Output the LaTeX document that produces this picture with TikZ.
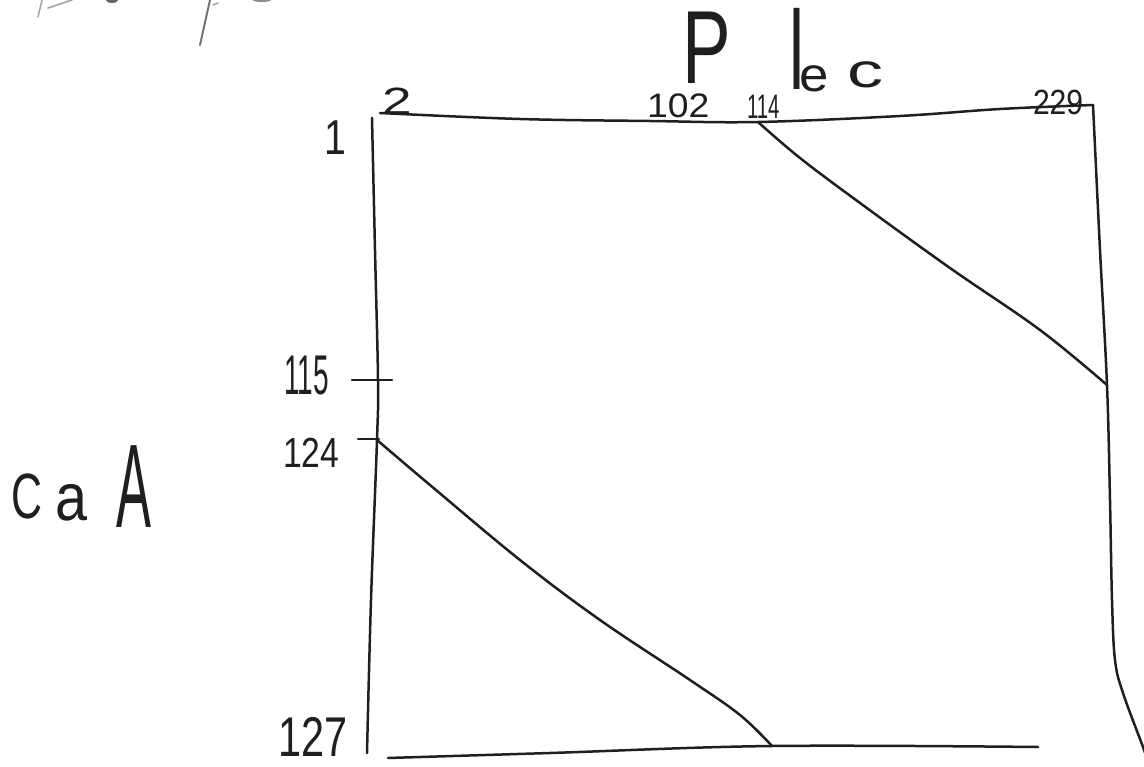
\documentclass[tikz,border=0pt]{standalone}
\usepackage{fontspec}
\setmainfont{Liberation Sans}
\newcommand{\fsz}[1]{\fontsize{#1}{#1}\selectfont}
\begin{document}
\begin{tikzpicture}[x=1pt,y=-1pt,
  ink/.style={line width=2.5pt,draw=black!88,line cap=round,line join=round},
  faint/.style={line width=1.6pt,draw=black!35,line cap=round},
  hand/.style={inner sep=0pt,outer sep=0pt,anchor=base west,text=black!88}]
\useasboundingbox (0,0) rectangle (1144,767);
\clip (0,0) rectangle (1144,767);
% faint cut-off strokes at the top left
\draw[faint] (38,17) -- (42,0);
\draw[faint] (48,8) -- (72,0);
\fill[black!60] (112,0) ellipse (6 and 3);
\draw[faint,draw=black!55,line width=2pt] (200,45) -- (210,0);
\draw[faint] (213,5) -- (218,3);
\fill[black!45] (262,0) ellipse (9 and 2);
% corner coordinates
\coordinate (tl) at (380,113);
\coordinate (tr) at (1093,105);
\coordinate (lt) at (372,118);
\coordinate (lb) at (367,753);
\coordinate (bl) at (388,758);
\coordinate (br) at (1038,747);
\coordinate (rb) at (1148,762);
\coordinate (d1s) at (758,122);
\coordinate (d1e) at (1107,385);
\coordinate (d2s) at (377,440);
\coordinate (d2e) at (772,746);
% frame lines
\draw[ink] plot[smooth,tension=0.6] coordinates {(tl) (520,119) (650,121) (d1s) (900,116) (1000,109) (tr)};
\draw[ink] plot[smooth,tension=0.6] coordinates {(lt) (375,250) (378,380) (d2s) (371,600) (lb)};
\draw[ink] plot[smooth,tension=0.6] coordinates {(bl) (550,753) (d2e) (br)};
\draw[ink] plot[smooth,tension=0.6] coordinates {(tr) (1100,250) (d1e) (1110,500) (1112,600) (1115,660) (1123,693) (1143,747) (rb)};
% diagonals
\draw[ink] plot[smooth,tension=0.6] coordinates {(d1s) (800,158) (860,203) (950,268) (1040,330) (d1e)};
\draw[ink] plot[smooth,tension=0.6] coordinates {(d2s) (430,485) (520,560) (600,620) (690,680) (740,715) (d2e)};
% ticks
\coordinate (t1a) at (352,380); \coordinate (t1b) at (392,380);
\coordinate (t2a) at (358,439); \coordinate (t2b) at (379,439);
\draw[ink] (t1a) -- (t1b);
\draw[ink] (t2a) -- (t2b);
% labels
\node[hand] (n1) at (324,155) {\fsz{49}\scalebox{0.8}[1]{1}};
\node[hand] (n115) at (284,395) {\fsz{56}\scalebox{0.5}[1]{115}};
\node[hand] (n124) at (283,467) {\fsz{42}\scalebox{0.8}[1]{124}};
\node[hand] (n127) at (278,756) {\fsz{56}\scalebox{0.74}[1]{127}};
\node[hand] (n2) at (382,115) {\fsz{38}\scalebox{1.4}[1]{2}};
\node[hand] (n102) at (647,118) {\fsz{34}\scalebox{1.1}[1]{102}};
\node[hand] (n114) at (747,119) {\fsz{34}\scalebox{0.6}[1]{114}};
\node[hand] (n229) at (1033,115) {\fsz{35}\scalebox{0.86}[1]{229}};
\node[hand] (tP) at (682,84) {\fsz{104}\scalebox{0.7}[1]{P}};
\node[hand] (tlec) at (789,92) {\raisebox{2pt}{\fsz{112}\scalebox{0.6}[1]{l}}\kern-4pt{\fsz{48}\scalebox{1.1}[1]{e}}\kern18pt\raisebox{4pt}{\fsz{48}\scalebox{1.5}[1]{c}}};
\node[hand] (tC) at (12,518) {\fsz{64}\scalebox{0.67}[1]{C}};
\node[hand] (ta) at (55,520) {\fsz{67}\scalebox{0.86}[1]{a}};
\node[hand] (tA) at (116,527) {\fsz{119}\scalebox{0.44}[1]{A}};
\end{tikzpicture}
\end{document}
